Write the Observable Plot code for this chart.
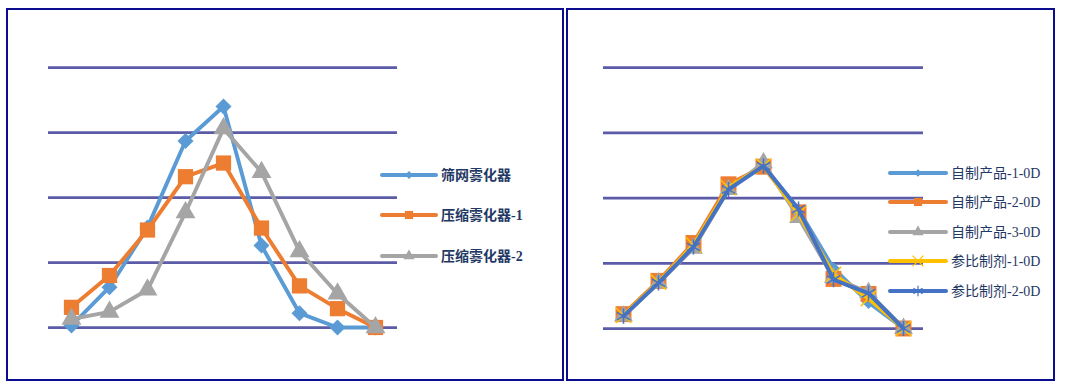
<!DOCTYPE html>
<html><head><meta charset="utf-8">
<script src="https://cdn.jsdelivr.net/npm/d3@7"></script>
<script src="https://cdn.jsdelivr.net/npm/@observablehq/plot@0.6"></script>
<style>
body{margin:0;width:1068px;height:388px;position:relative;background:#fff;overflow:hidden}
.panel{position:absolute;box-sizing:border-box;border:2px solid #0c0c8e;}
.abs{position:absolute;top:0}
svg text{font-family:"Liberation Serif","Noto Sans CJK SC",serif;}
</style></head><body>
<div class="panel" style="left:6px;top:8px;width:558px;height:373px"></div>
<div class="panel" style="left:566px;top:8px;width:489px;height:373px"></div>
<div id="left" class="abs" style="left:0px"></div>
<div id="right" class="abs" style="left:564px"></div>
<script>
// ---- data ----
const categories = ["1","2","3","4","5","6","7","8","9"];
const gridTicks = [0, 10, 20, 30, 40];

const leftNames = ["筛网雾化器", "压缩雾化器-1", "压缩雾化器-2"];
const sieveNebulizer = [0.3, 6.2, 15.4, 28.7, 34.0, 12.6, 2.2, 0, 0];
const compressor1 = [3.1, 8.0, 15.0, 23.2, 25.3, 15.3, 6.4, 2.9, 0];
const compressor2 = [1.3, 2.4, 5.8, 17.7, 30.6, 23.9, 11.7, 5.2, 0];

const rightNames = ["自制产品-1-0D", "自制产品-2-0D", "自制产品-3-0D", "参比制剂-1-0D", "参比制剂-2-0D"];
const selfMade1 = [2.0, 7.0, 12.6, 21.6, 25.0, 18.2, 9.2, 4.0, 0];
const selfMade2 = [2.2, 7.3, 13.1, 22.1, 24.8, 17.8, 7.6, 5.3, 0];
const selfMade3 = [1.9, 7.0, 12.3, 21.3, 25.4, 17.0, 7.8, 5.5, 0];
const reference1 = [2.0, 7.1, 12.8, 21.6, 24.9, 17.6, 8.3, 4.6, 0];
const reference2 = [1.9, 7.0, 12.5, 21.3, 24.9, 18.3, 7.5, 5.4, 0];

// ---- styles ----
const gridColor = "#5b5ba8";
const textColor = "#1f3864";
const leftStyles = [
  {color:"#5b9bd5", symbol:"square", rotate:45, r:6.4, lr:3.2},
  {color:"#ed7d31", symbol:"square", rotate:0, r:8.6, lr:4.6},
  {color:"#a5a5a5", symbol:"triangle", rotate:0, r:7.4, lr:4.2}
];
const rightStyles = [
  {color:"#5b9bd5", symbol:"square", rotate:45, r:5.2, lr:3.0},
  {color:"#ed7d31", symbol:"square", rotate:0, r:9.0, lr:4.6},
  {color:"#a5a5a5", symbol:"triangle", rotate:0, r:7.0, lr:4.2},
  {color:"#ffc000", symbol:"times", rotate:0, r:7.0, lr:5.0, stroke:true},
  {color:"#4472c4", symbol:"asterisk", rotate:0, r:7.2, lr:5.0, stroke:true}
];

function rows(arr, name){ return categories.map((c,i)=>({cat:c, value:arr[i], series:name})); }

function seriesMarks(data, st, lineW){
  const dotOpts = {x:"cat", y:"value", symbol:()=>st.symbol, r:st.r, rotate:st.rotate};
  if (st.stroke) { dotOpts.stroke = st.color; dotOpts.strokeWidth = 1.5; dotOpts.fill = "none"; }
  else { dotOpts.fill = st.color; dotOpts.stroke = "none"; }
  return [
    Plot.line(data, {x:"cat", y:"value", stroke:st.color, strokeWidth:lineW, strokeLinejoin:"round", strokeLinecap:"round"}),
    Plot.dot(data, dotOpts)
  ];
}

function panel(seriesArrays, names, styles, opts){
  const marks = [Plot.ruleY(gridTicks, {stroke:gridColor, strokeWidth:2.75})];
  seriesArrays.forEach((arr,i)=>marks.push(...seriesMarks(rows(arr,names[i]), styles[i], opts.lineW)));
  return Plot.plot({
    width:opts.width, height:388,
    marginLeft:opts.ml, marginRight:opts.mr, marginTop:67, marginBottom:opts.mb,
    x:{type:"point", domain:categories, padding:0.5, axis:null},
    y:{domain:[0,40], axis:null},
    style:{background:"transparent", overflow:"visible"},
    marks
  });
}

document.getElementById("left").append(panel([sieveNebulizer, compressor1, compressor2], leftNames, leftStyles, {width:564, ml:48, mr:167, mb:61, lineW:3.9}));
document.getElementById("right").append(panel([selfMade1, selfMade2, selfMade3, reference1, reference2], rightNames, rightStyles, {width:504, ml:39, mr:145, mb:60, lineW:4}));

// ---- legends ----
const symbolMap = {square:d3.symbolSquare, triangle:d3.symbolTriangle, times:d3.symbolTimes, asterisk:d3.symbolAsterisk};
function legend(names, styles, o){
  const svg = d3.select("body").append("svg")
    .style("position","absolute").style("left",o.left+"px").style("top",o.top+"px")
    .attr("width",o.w).attr("height",o.h);
  names.forEach((n,i)=>{
    const st = styles[i], y = o.ys[i] - o.top;
    const g = svg.append("g");
    g.append("line").attr("x1",o.x0-o.left).attr("x2",o.x1-o.left).attr("y1",y).attr("y2",y)
      .attr("stroke",st.color).attr("stroke-width",4).attr("stroke-linecap","round");
    const p = g.append("path")
      .attr("d", d3.symbol(symbolMap[st.symbol], Math.PI*st.lr*st.lr)())
      .attr("transform",`translate(${o.mx-o.left},${y}) rotate(${st.rotate})`);
    if (st.stroke) p.attr("fill","none").attr("stroke",st.color).attr("stroke-width",1.2);
    else p.attr("fill",st.color);
    g.append("text").attr("x",o.tx-o.left).attr("y",y).attr("dy","0.36em")
      .attr("fill",textColor).attr("font-size",14).attr("font-weight",o.bold?"bold":"normal").text(n);
  });
}
legend(leftNames, leftStyles, {left:370, top:150, w:190, h:120, ys:[175,215,256], x0:382, x1:436, mx:409, tx:441, bold:true});
legend(rightNames, rightStyles, {left:880, top:155, w:172, h:150, ys:[173,202,232,261,291], x0:890, x1:946, mx:918, tx:951, bold:false});
</script>
</body></html>
